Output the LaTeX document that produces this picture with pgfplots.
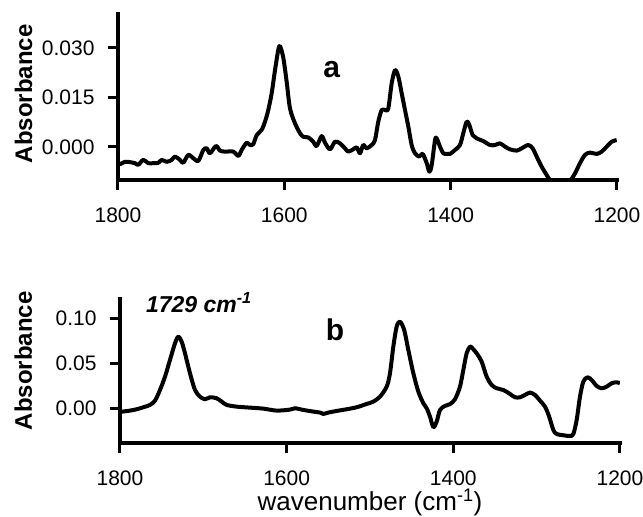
\documentclass[border=0pt]{standalone}
\usepackage{fontspec}
\setmainfont{Liberation Sans}
\usepackage{pgfplots}
\pgfplotsset{compat=1.18}

\pgfplotsset{
  spectrum/.style={
    scale only axis,
    x dir=reverse,
    xmin=1200, xmax=1800,
    xtick={1200,1400,1600,1800},
    axis lines*=left,
    axis line style={line width=4pt, line cap=rect},
    tick align=outside,
    major tick length=10pt,
    major tick style={black, line width=3pt},
    tick label style={font=\fontsize{21}{25}\selectfont},
    xticklabel style={inner sep=0pt, yshift=-18pt},
    yticklabel style={xshift=-10pt},
    scaled y ticks=false,
    /pgf/number format/assume math mode=true,
    /pgf/number format/1000 sep={},
    ylabel style={font=\fontsize{24}{28}\selectfont\bfseries, anchor=base},
    clip mode=individual,
  },
  curve/.style={black, line width=4pt, smooth, tension=0.5, line join=round},
}

\begin{document}
\begin{tikzpicture}
% ---------------- panel a ----------------
\begin{axis}[spectrum,
  at={(118pt,337pt)}, anchor=south west,
  width=499pt, height=166pt,
  ymin=-0.010, ymax=0.0403,
  ytick={0,0.015,0.030},
  yticklabel style={/pgf/number format/fixed, /pgf/number format/fixed zerofill, /pgf/number format/precision=3},
  ylabel={Absorbance},
  ylabel style={at={(axis description cs:-0.172,0.52)}},
]
\addplot[curve] coordinates {
(1800,-0.0052) (1797.6,-0.0052) (1791.6,-0.0045) (1785.6,-0.0046) (1779.6,-0.0049)
(1775.6,-0.0054) (1769.6,-0.0039) (1763.6,-0.0049) (1757.6,-0.0049) (1751.5,-0.0048)
(1747.5,-0.0039) (1741.4,-0.0045) (1735.4,-0.0039) (1731.5,-0.0029) (1725.5,-0.0039)
(1721.5,-0.0048) (1715.5,-0.0024) (1709.5,-0.0034) (1703.4,-0.0042) (1697.4,-0.0009)
(1693.3,-0.0004) (1689.4,-0.0019) (1682.2,0.0003) (1677.4,-0.0011) (1671.3,-0.0014)
(1661.4,-0.0014) (1655.3,-0.0027) (1651.3,-0.0009) (1645.3,0.0013) (1641.3,0.0006)
(1637.3,0.0009) (1633.2,0.0036) (1627.2,0.0052) (1623.2,0.0077) (1619.3,0.0112)
(1615.2,0.0163) (1611.2,0.0233) (1607.3,0.0294) (1605.2,0.0306) (1601.2,0.0270)
(1597.2,0.0198) (1593.2,0.0117) (1587.2,0.0072) (1581.2,0.0042) (1577.2,0.0031)
(1571.2,0.0029) (1565.2,0.0016) (1561.1,0.0003) (1555.1,0.0033) (1551.1,0.0013)
(1545.1,-0.0007) (1539.1,0.0016) (1533.1,0.0011) (1527.1,-0.0004) (1523.1,-0.0014)
(1517.1,-0.0007) (1513.0,-0.0001) (1509.0,-0.0019) (1505.1,0.0006) (1501.0,-0.0004)
(1495.0,0.0006) (1491.0,0.0021) (1487.0,0.0077) (1482.9,0.0112) (1479.0,0.0112)
(1475.0,0.0117) (1470.9,0.0193) (1466.9,0.0233) (1462.9,0.0213) (1458.9,0.0163)
(1454.9,0.0112) (1450.9,0.0062) (1446.9,0.0006) (1442.9,-0.0019) (1437.7,-0.0029)
(1433.6,-0.0021) (1428.8,-0.0049) (1425.6,-0.0075) (1422.8,-0.0055) (1418.8,0.0021)
(1416.8,0.0026) (1412.8,0.0001) (1408.9,-0.0019) (1404.8,-0.0021) (1400.8,-0.0021)
(1394.8,-0.0009) (1388.8,0.0006) (1384.8,0.0042) (1380.7,0.0077) (1377.6,0.0067)
(1373.5,0.0036) (1368.7,0.0026) (1360.8,0.0018) (1352.7,0.0006) (1346.7,0.0006)
(1340.7,0.0011) (1334.7,0.0001) (1328.7,-0.0007) (1320.6,-0.0011) (1314.6,-0.0004)
(1306.7,0.0006) (1301.4,-0.0004) (1296.6,-0.0029) (1290.5,-0.0060) (1284.5,-0.0085)
(1280.6,-0.0100) (1274.6,-0.0104) (1266.0,-0.0102) (1256.5,-0.0101) (1250.5,-0.0080)
(1244.5,-0.0049) (1238.5,-0.0024) (1232.5,-0.0017) (1224.4,-0.0021) (1218.4,-0.0014)
(1212.4,0.0001) (1206.4,0.0016) (1200.4,0.0021)
};
\node[anchor=base, font=\fontsize{30}{34}\selectfont\bfseries] at (axis cs:1543,0.0212) {a};
\end{axis}

% ---------------- panel b ----------------
\begin{axis}[spectrum,
  at={(120pt,74pt)}, anchor=south west,
  width=500pt, height=144pt,
  ymin=-0.0386, ymax=0.1214,
  ytick={0,0.05,0.10},
  yticklabel style={/pgf/number format/fixed, /pgf/number format/fixed zerofill, /pgf/number format/precision=2},
  ylabel={Absorbance},
  ylabel style={at={(axis description cs:-0.176,0.57)}},
  xlabel={wavenumber (cm\textsuperscript{-1})},
  xlabel style={font=\fontsize{26}{30}\selectfont, inner sep=0pt, at={(axis description cs:0.5,-0.472)}, anchor=base},
]
\addplot[curve] coordinates {
(1800,-0.0040) (1798,-0.0038) (1788,-0.0026) (1780,-0.0011) (1772,0.0011)
(1764,0.0037) (1758,0.0085) (1752,0.0203) (1746,0.0351) (1740,0.0537)
(1734,0.0722) (1730,0.0796) (1726,0.0740) (1722,0.0611) (1716,0.0389)
(1710,0.0203) (1704,0.0129) (1698,0.0100) (1692,0.0122) (1684,0.0111)
(1678,0.0074) (1672,0.0037) (1660,0.0018) (1644,0.0007) (1628,-0.0004)
(1612,-0.0026) (1596,-0.0015) (1590,0.0000) (1580,-0.0019) (1568,-0.0037)
(1560,-0.0048) (1556,-0.0063) (1550,-0.0048) (1540,-0.0030) (1528,-0.0011)
(1516,0.0011) (1504,0.0048) (1496,0.0074) (1488,0.0129) (1480,0.0240)
(1476,0.0389) (1472,0.0685) (1468,0.0907) (1464,0.0962) (1459,0.0870)
(1454,0.0648) (1448,0.0389) (1442,0.0185) (1436,0.0056) (1432,0.0000)
(1428,-0.0093) (1424,-0.0210) (1420,-0.0149) (1416,-0.0019) (1410,0.0026)
(1404,0.0046) (1398,0.0100) (1392,0.0240) (1388,0.0426) (1384,0.0611)
(1380,0.0685) (1377,0.0666) (1372,0.0611) (1366,0.0518) (1360,0.0351)
(1354,0.0259) (1348,0.0222) (1340,0.0203) (1332,0.0159) (1326,0.0122)
(1320,0.0122) (1314,0.0148) (1308,0.0174) (1302,0.0148) (1296,0.0085)
(1290,0.0018) (1285,-0.0093) (1280,-0.0241) (1276,-0.0286) (1268,-0.0300)
(1260,-0.0308) (1256,-0.0286) (1252,-0.0130) (1248,0.0129) (1244,0.0296)
(1239,0.0344) (1234,0.0314) (1228,0.0248) (1222,0.0222) (1216,0.0240)
(1210,0.0278) (1204,0.0289) (1200,0.0278)
};
\node[anchor=base, font=\fontsize{30}{34}\selectfont\bfseries] at (axis cs:1542,0.0748) {b};
\node[anchor=base west, inner sep=0pt, font=\fontsize{23}{27}\selectfont\bfseries\itshape]
  at (axis cs:1769,0.106) {1729 cm\textsuperscript{-1}};
\end{axis}

\pgfresetboundingbox
\path[use as bounding box] (0,0) rectangle (643pt,517pt);
\end{tikzpicture}
\end{document}
